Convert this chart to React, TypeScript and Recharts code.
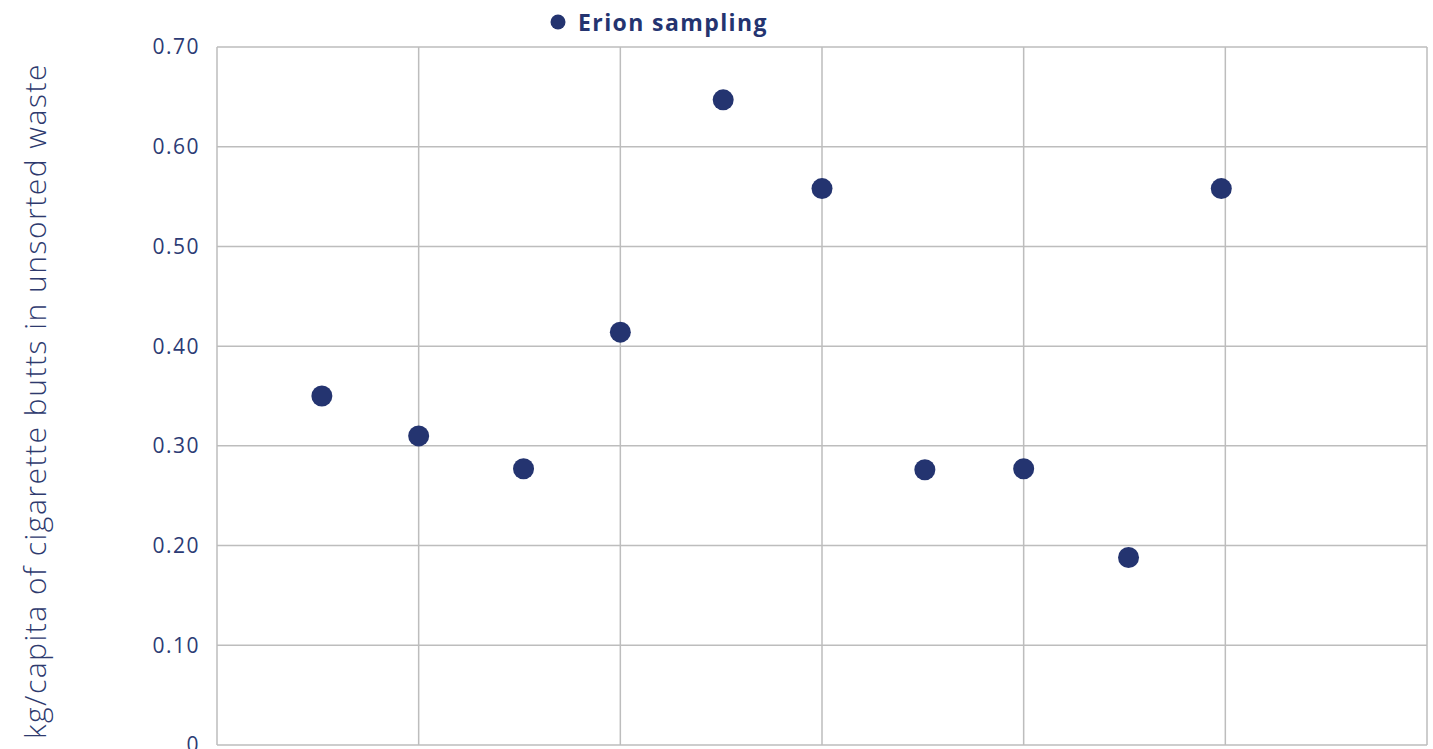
import React from 'react';
import { ScatterChart, Scatter, XAxis, YAxis, CartesianGrid, Legend, Label } from 'recharts';

// positions along the x axis (one unit per grid column)
const xPositions = [0.52, 1.0, 1.52, 2.0, 2.51, 3.0, 3.51, 4.0, 4.52, 4.98];
const erionValues = [0.35, 0.31, 0.277, 0.414, 0.647, 0.558, 0.276, 0.277, 0.188, 0.558];
const xTicks = [0, 1, 2, 3, 4, 5, 6];
const yTicks = [0, 0.1, 0.2, 0.3, 0.4, 0.5, 0.6, 0.7];

const seriesName = 'Erion sampling';
const yAxisTitle = 'kg/capita of cigarette butts in unsorted waste';

const navy = '#243470';
const font = '"Open Sans", sans-serif';

const data = xPositions.map((x, i) => ({ x, y: erionValues[i] }));

const Dot = (props: any) => <circle cx={props.cx} cy={props.cy} r={10.5} fill={navy} />;

const LegendContent = () => (
  <div style={{ display: 'flex', alignItems: 'center', fontFamily: font, height: 30 }}>
    <svg width={16} height={16} style={{ marginRight: 12 }}>
      <circle cx={8} cy={8} r={7.5} fill={navy} />
    </svg>
    <span style={{ fontWeight: 700, fontSize: 23, letterSpacing: 1.4, color: navy }}>{seriesName}</span>
  </div>
);

const AxisTitle = (props: any) => {
  const vb = props.viewBox;
  const x = vb.x + 34;
  const y = vb.y + vb.height / 2 + 5;
  return (
    <text
      x={x}
      y={y}
      transform={`rotate(-90 ${x} ${y})`}
      textAnchor="middle"
      dominantBaseline="central"
      fill="#2e3a6e"
      fontFamily={font}
      fontWeight={300}
      fontSize={30}
      letterSpacing={1.5}
    >
      {yAxisTitle}
    </text>
  );
};

export default function App() {
  return (
    <div style={{ position: 'absolute', left: 0, top: 0, width: 1433, height: 749, overflow: 'hidden', background: '#fff' }}>
      <ScatterChart width={1433} height={800} margin={{ top: 17, right: 6, bottom: 55, left: 0 }}>
        <CartesianGrid stroke="#bdbdbd" strokeWidth={1.5} />
        <XAxis type="number" dataKey="x" domain={[0, 6]} ticks={xTicks} hide />
        <YAxis
          type="number"
          dataKey="y"
          domain={[0, 0.7]}
          ticks={yTicks}
          width={217}
          axisLine={false}
          tickLine={false}
          tickMargin={11}
          tickFormatter={(v: number) => (v === 0 ? '0' : v.toFixed(2))}
          tick={{ fill: '#2c3b75', fontFamily: font, fontSize: 21, letterSpacing: 1.5 }}
        >
          <Label content={AxisTitle} />
        </YAxis>
        <Legend
          verticalAlign="top"
          height={30}
          content={LegendContent}
          wrapperStyle={{ top: 7, left: 550, width: 260 }}
        />
        <Scatter name={seriesName} data={data} fill={navy} shape={Dot} isAnimationActive={false} />
      </ScatterChart>
    </div>
  );
}
